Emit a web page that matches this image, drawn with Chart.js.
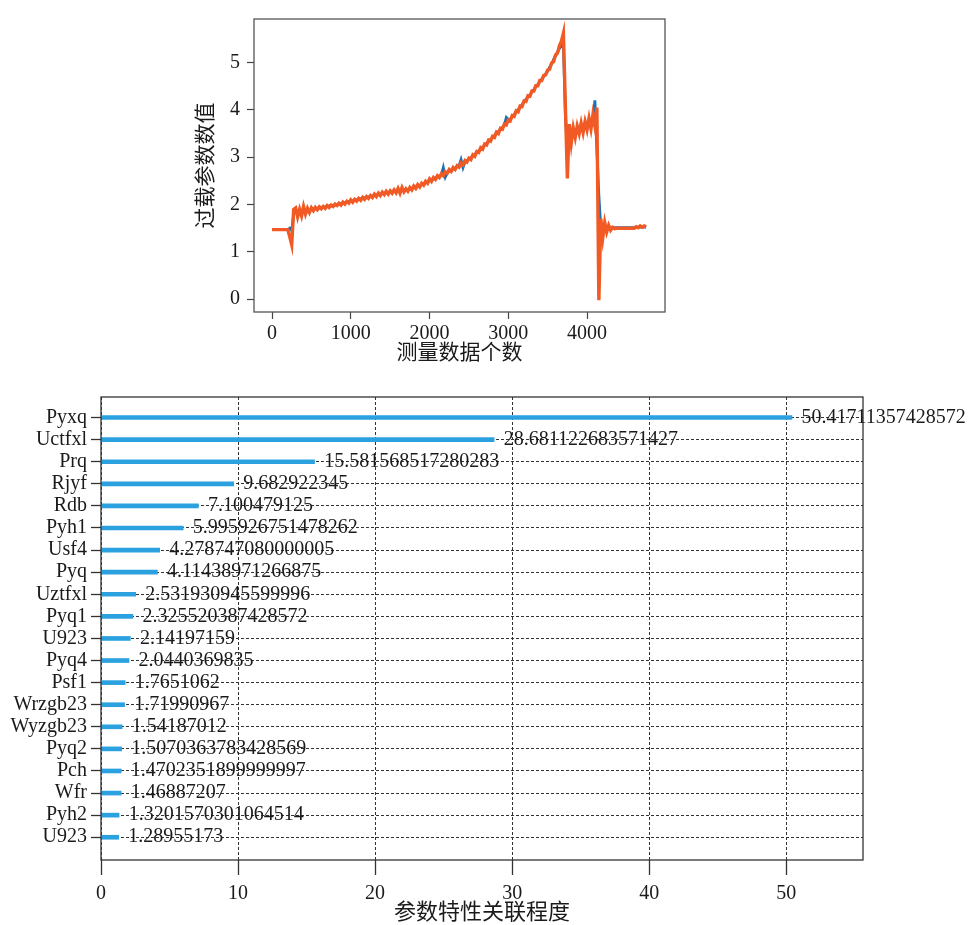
<!DOCTYPE html>
<html><head><meta charset="utf-8">
<script src="https://cdn.jsdelivr.net/npm/chart.js@4.4.1/dist/chart.umd.min.js"></script>
<style>
html,body{margin:0;padding:0;background:#fff;}
#wrap{position:relative;width:975px;height:925px;overflow:hidden;}
#c1{position:absolute;left:0;top:0;}
#c2{position:absolute;left:0;top:380px;}
</style></head><body>
<div id="wrap"><canvas id="c1" width="975" height="370"></canvas><canvas id="c2" width="975" height="545"></canvas></div>
<script>
// ---------- top chart data (one value every 25 samples) ----------
const SAMPLE_STEP = 25;
const ORANGE = [
  1.47,1.47,1.47,1.47,1.47,1.47,1.47,1.47,1.47,1.32,
  1.15,1.9,1.93,1.74,1.9,1.76,1.96,1.8,1.92,1.83,
  1.93,1.87,1.94,1.89,1.95,1.91,1.96,1.92,1.98,1.94,
  1.99,1.96,2.01,1.98,2.03,1.99,2.05,2.01,2.07,2.03,
  2.1,2.05,2.11,2.07,2.13,2.09,2.15,2.11,2.17,2.13,
  2.19,2.15,2.22,2.17,2.24,2.19,2.26,2.21,2.28,2.22,
  2.29,2.24,2.31,2.25,2.34,2.24,2.36,2.27,2.33,2.28,
  2.36,2.31,2.39,2.34,2.42,2.37,2.45,2.41,2.49,2.45,
  2.54,2.49,2.57,2.53,2.61,2.57,2.65,2.61,2.69,2.66,
  2.74,2.7,2.78,2.74,2.82,2.79,2.88,2.84,2.93,2.9,
  2.98,2.95,3.05,3.02,3.12,3.1,3.2,3.17,3.28,3.26,
  3.36,3.34,3.44,3.42,3.53,3.5,3.61,3.59,3.7,3.68,
  3.79,3.77,3.88,3.86,3.98,3.96,4.08,4.07,4.19,4.18,
  4.3,4.29,4.4,4.4,4.51,4.51,4.62,4.62,4.73,4.74,
  4.84,4.86,4.99,5.02,5.16,5.2,5.36,5.45,5.62,4.08,
  2.55,3.7,3.3,3.62,3.42,3.66,3.5,3.72,3.52,3.75,
  3.58,3.82,3.6,3.9,3.66,4.05,-0.02,1.7,1.3,1.62,
  1.42,1.56,1.46,1.52,1.49,1.5,1.5,1.5,1.5,1.5,
  1.5,1.5,1.5,1.5,1.5,1.53,1.51,1.55,1.52,1.55,
  1.53
];
const BLUE = [
  1.47,1.47,1.47,1.47,1.47,1.47,1.47,1.47,1.47,1.5,
  1.45,1.8,1.85,1.82,1.86,1.84,1.87,1.86,1.88,1.88,
  1.9,1.91,1.92,1.92,1.93,1.94,1.94,1.95,1.96,1.97,
  1.97,1.98,1.99,2.0,2.01,2.02,2.03,2.04,2.05,2.06,
  2.07,2.08,2.09,2.1,2.11,2.12,2.13,2.14,2.15,2.16,
  2.17,2.18,2.19,2.2,2.21,2.22,2.23,2.24,2.25,2.26,
  2.27,2.27,2.28,2.29,2.29,2.3,2.3,2.31,2.31,2.32,
  2.33,2.34,2.36,2.37,2.39,2.4,2.42,2.44,2.46,2.48,
  2.51,2.52,2.54,2.56,2.58,2.6,2.62,2.78,2.58,2.67,
  2.71,2.73,2.76,2.77,2.8,2.82,2.95,2.78,2.9,2.92,
  2.96,2.99,3.03,3.06,3.1,3.13,3.18,3.21,3.26,3.29,
  3.34,3.37,3.42,3.46,3.51,3.54,3.59,3.63,3.68,3.84,
  3.8,3.8,3.86,3.9,3.96,4.0,4.06,4.11,4.17,4.22,
  4.28,4.32,4.38,4.43,4.49,4.54,4.6,4.65,4.71,4.76,
  4.82,4.9,4.97,5.06,5.14,5.22,5.3,5.35,5.38,3.9,
  3.2,3.5,3.45,3.5,3.52,3.55,3.57,3.6,3.62,3.64,
  3.66,3.68,3.7,3.75,4.2,3.15,2.2,1.5,1.45,1.55,
  1.5,1.5,1.51,1.51,1.51,1.51,1.51,1.51,1.51,1.51,
  1.51,1.51,1.51,1.51,1.51,1.52,1.52,1.53,1.52,1.53,
  1.52
];
const TOP_X_TICKS = [0, 1000, 2000, 3000, 4000];
const TOP_Y_TICKS = [0, 1, 2, 3, 4, 5];

// ---------- bottom chart data ----------
const PARAMS = ['Pyxq','Uctfxl','Prq','Rjyf','Rdb','Pyh1','Usf4','Pyq','Uztfxl','Pyq1',
  'U923','Pyq4','Psf1','Wrzgb23','Wyzgb23','Pyq2','Pch','Wfr','Pyh2','U923'];
const DEGREES = [50.41711357428572, 28.681122683571427, 15.581568517280283, 9.682922345,
  7.100479125, 5.995926751478262, 4.278747080000005, 4.11438971266875, 2.531930945599996,
  2.325520387428572, 2.14197159, 2.0440369835, 1.7651062, 1.71990967, 1.54187012,
  1.5070363783428569, 1.4702351899999997, 1.46887207, 1.3201570301064514, 1.28955173];
const BOTTOM_X_TICKS = [0, 10, 20, 30, 40, 50];

// ---------- styling ----------
const SERIF = '"Liberation Serif", "Noto Sans CJK SC", serif';
const CJK = '"Liberation Serif", "Noto Sans CJK SC", sans-serif';
const TXT = '#1a1a1a';

const framePlugin = {
  id: 'frame',
  afterDraw(chart, args, opts) {
    const a = chart.chartArea, ctx = chart.ctx;
    ctx.save();
    ctx.strokeStyle = opts.color || '#444';
    ctx.lineWidth = opts.width || 1.2;
    ctx.strokeRect(a.left, a.top, a.right - a.left, a.bottom - a.top);
    ctx.restore();
  }
};

const toPts = arr => arr.map((v, i) => ({x: i * SAMPLE_STEP, y: v}));

new Chart(document.getElementById('c1'), {
  type: 'line',
  data: {datasets: [
    {data: toPts(ORANGE), borderColor: '#f15a24', borderWidth: 3.4, pointRadius: 0, tension: 0},
    {data: toPts(BLUE), borderColor: '#1f6fb2', borderWidth: 2.8, pointRadius: 0, tension: 0}
  ]},
  options: {
    responsive: false, animation: false, parsing: false,
    layout: {padding: {left: 190, right: 310, top: 7, bottom: 0}},
    plugins: {legend: {display: false}, tooltip: {enabled: false}, frame: {color: '#555', width: 1.3}},
    scales: {
      x: {
        type: 'linear', min: -229, max: 4990,
        afterBuildTicks: s => { s.ticks = TOP_X_TICKS.map(v => ({value: v})); },
        afterFit: s => { s.height = 58; },
        grid: {drawOnChartArea: false, drawTicks: true, tickLength: 7, tickColor: '#444', tickWidth: 1.2},
        border: {display: false},
        ticks: {autoSkip: false, maxRotation: 0, padding: 3, color: TXT, font: {family: SERIF, size: 20}, callback: v => String(v)},
        title: {display: true, text: '测量数据个数', color: TXT, font: {family: CJK, size: 21}, padding: {top: 0, bottom: 4}}
      },
      y: {
        type: 'linear', min: -0.27, max: 5.92,
        afterBuildTicks: s => { s.ticks = TOP_Y_TICKS.map(v => ({value: v})); },
        afterFit: s => { s.width = 64; },
        grid: {drawOnChartArea: false, drawTicks: true, tickLength: 7, tickColor: '#444', tickWidth: 1.2},
        border: {display: false},
        ticks: {autoSkip: false, padding: 7, color: TXT, font: {family: SERIF, size: 20}, callback: v => String(v)},
        title: {display: true, text: '过载参数数值', color: TXT, font: {family: CJK, size: 21}, padding: {top: 4, bottom: 0}}
      }
    }
  },
  plugins: [framePlugin]
});

const LABEL_OFFSET = 0.7;
const valueLabels = {
  id: 'valueLabels',
  afterDraw(chart) {
    const ctx = chart.ctx, xs = chart.scales.x, ys = chart.scales.y;
    ctx.save();
    ctx.font = '20px ' + SERIF;
    ctx.fillStyle = TXT;
    ctx.textAlign = 'left';
    ctx.textBaseline = 'middle';
    DEGREES.forEach((v, i) => {
      ctx.fillText(String(v), xs.getPixelForValue(v + LABEL_OFFSET), ys.getPixelForValue(i));
    });
    ctx.restore();
  }
};

new Chart(document.getElementById('c2'), {
  type: 'bar',
  data: {datasets: [{
    data: DEGREES.map((v, i) => ({x: v, y: i})),
    backgroundColor: '#2ba2df', borderWidth: 0, barThickness: 4
  }]},
  options: {
    indexAxis: 'y', responsive: false, animation: false,
    layout: {padding: {left: 0, right: 112, top: 17, bottom: 0}},
    plugins: {legend: {display: false}, tooltip: {enabled: false}, frame: {color: '#333', width: 1.3}},
    scales: {
      x: {
        type: 'linear', min: 0, max: 55.6, z: 1, offset: false,
        afterBuildTicks: s => { s.ticks = BOTTOM_X_TICKS.map(v => ({value: v})); },
        afterFit: s => { s.height = 65; },
        grid: {offset: false, color: '#333', lineWidth: 1, drawTicks: true, tickLength: 15, tickColor: '#333', tickWidth: 1.3},
        border: {display: false, dash: [3, 2]},
        ticks: {autoSkip: false, maxRotation: 0, padding: 7, color: TXT, font: {family: SERIF, size: 20}, callback: v => String(v)},
        title: {display: true, text: '参数特性关联程度', color: TXT, font: {family: CJK, size: 22, lineHeight: 1}, padding: {top: 0, bottom: 1}}
      },
      y: {
        type: 'linear', reverse: true, min: -0.93, max: 20.03, z: 1, offset: false,
        afterBuildTicks: s => { s.ticks = PARAMS.map((_, i) => ({value: i})); },
        afterFit: s => { s.width = 101; },
        grid: {offset: false, color: '#333', lineWidth: 1, drawTicks: true, tickLength: 10, tickColor: '#333', tickWidth: 1.3},
        border: {display: false, dash: [3, 2]},
        ticks: {autoSkip: false, padding: 4, color: TXT, font: {family: SERIF, size: 20}, callback: v => PARAMS[v]}
      }
    }
  },
  plugins: [framePlugin, valueLabels]
});
</script>
</body></html>
